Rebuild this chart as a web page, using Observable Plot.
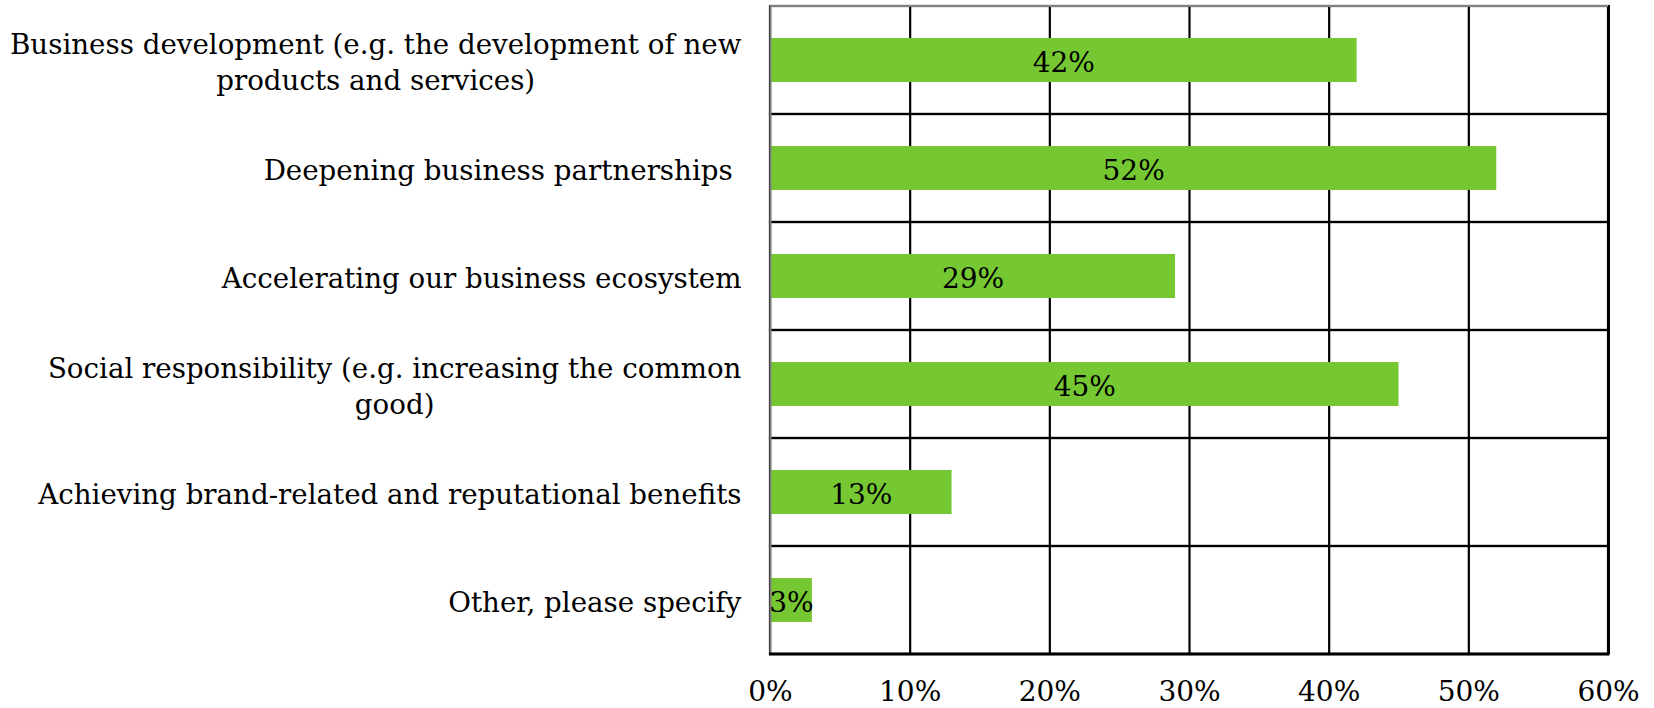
<!DOCTYPE html>
<html>
<head>
<meta charset="utf-8">
<script src="https://cdn.jsdelivr.net/npm/d3@7"></script>
<script src="https://cdn.jsdelivr.net/npm/@observablehq/plot@0.6"></script>
<style>
  html, body { margin: 0; padding: 0; background: #fff; }
  #chart { width: 1654px; height: 708px; }
</style>
</head>
<body>
<div id="chart"></div>
<script>
const categories = [
  "Business development (e.g. the development of new\nproducts and services)",
  "Deepening business partnerships\u00a0",
  "Accelerating our business ecosystem",
  "Social responsibility (e.g. increasing the common\ngood)",
  "Achieving brand-related and reputational benefits",
  "Other, please specify"
];
const values = [42, 52, 29, 45, 13, 3];
const xTicks = [0, 10, 20, 30, 40, 50, 60];
const xMax = 60;

const data = categories.map((c, i) => ({cat: c, value: values[i]}));
const FONT = "DejaVu Serif";
const FS = 28;

const chart = Plot.plot({
  width: 1654,
  height: 708,
  marginLeft: 770,
  marginRight: 46,
  marginTop: 5,
  marginBottom: 54,
  style: {fontFamily: FONT, fontSize: FS + "px", color: "#000", background: "#fff"},
  x: {domain: [0, xMax], label: null},
  y: {domain: categories, padding: 0, label: null},
  marks: [
    // row outlines (horizontal grid lines)
    Plot.barX(data, {x1: 0, x2: xMax, y: "cat", fill: "none", stroke: "#000", strokeWidth: 2.2}),
    // vertical grid lines
    Plot.ruleX(xTicks.filter(t => t > 0 && t < xMax), {stroke: "#000", strokeWidth: 2.2}),
    // right border
    Plot.ruleX([xMax], {stroke: "#000", strokeWidth: 3}),
    // bars
    Plot.barX(data, {x: "value", y: "cat", fill: "#76c832", insetTop: 32, insetBottom: 32}),
    // left axis line (gray)
    Plot.ruleX([0], {stroke: "#808080", strokeWidth: 2}),
    Plot.axisX({ticks: xTicks, tickFormat: d => d + "%", tickSize: 0, tickPadding: 27, fontSize: FS, label: null}),
    Plot.axisY({tickSize: 0, tickPadding: 29, fontSize: 27.7, lineHeight: 1.3, label: null}),
    // value labels
    Plot.text(data, {x: d => d.value / 2, y: "cat", text: d => d.value + "%", fontSize: FS, fill: "#000", dy: 3})
  ]
});

document.getElementById("chart").appendChild(chart);

// top gray border and thick bottom line via the scales
const svg = d3.select(chart);
const xs = chart.scale("x");
const ys = chart.scale("y");
const x0 = xs.apply(0), x1 = xs.apply(xMax);
const yTop = ys.apply(categories[0]);
const yBot = ys.apply(categories[categories.length - 1]) + ys.bandwidth;
svg.append("line").attr("x1", x0).attr("x2", x1).attr("y1", yTop).attr("y2", yTop)
  .attr("stroke", "#808080").attr("stroke-width", 2);
svg.append("line").attr("x1", x0 - 1).attr("x2", x1 + 1.5).attr("y1", yBot).attr("y2", yBot)
  .attr("stroke", "#000").attr("stroke-width", 3);

// center multi-line y labels as a right-aligned block
svg.selectAll("g[aria-label='y-axis tick label'] text").each(function() {
  const t = d3.select(this);
  const tspans = t.selectAll("tspan");
  if (tspans.size() > 1) {
    const w = this.getBBox().width;
    t.attr("text-anchor", "middle");
    const tr = t.attr("transform") || "";
    t.attr("transform", tr + ` translate(${-w / 2},0)`);
  }
});
</script>
</body>
</html>
